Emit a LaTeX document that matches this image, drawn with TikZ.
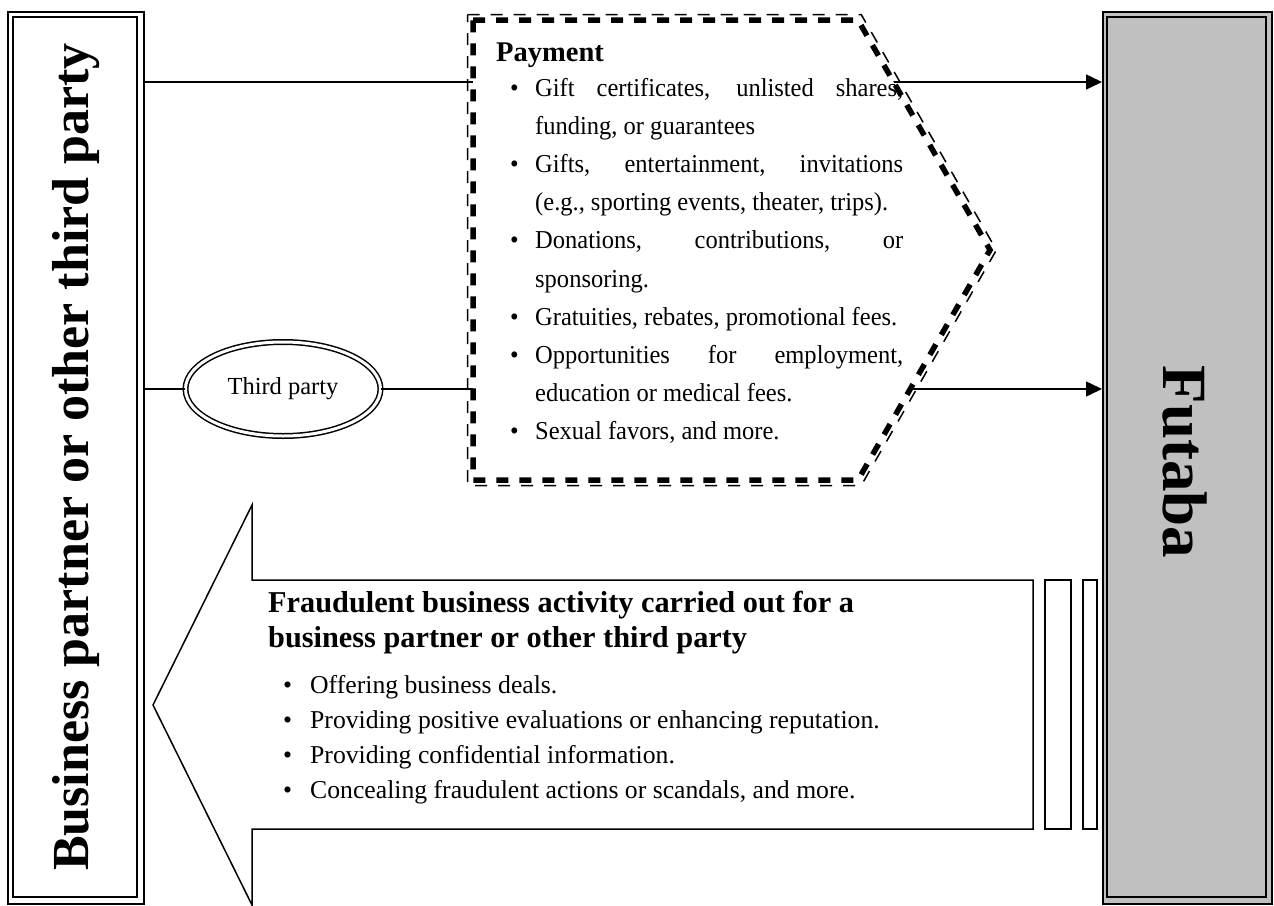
\documentclass[tikz,border=0pt]{standalone}
\usepackage{fontspec}
\setmainfont{Liberation Serif}
\newfontfamily\narrowserif[FakeStretch=0.95]{Liberation Serif}
\usetikzlibrary{arrows.meta,calc,shapes.geometric}
\definecolor{boxgray}{HTML}{C0C0C0}
\newcommand\pitem[1]{\hangindent=25pt\hangafter=1\noindent\makebox[25pt][l]{\textbullet}#1\par}
\newcommand\qitem[1]{\noindent\makebox[27pt][l]{\textbullet}#1\par}
\tikzset{
  conn/.style={line width=1.5pt},
  arr/.style={conn,-{Triangle[length=16pt,width=15pt]}},
  outerbox/.style={draw,line width=1.5pt,inner sep=0pt,anchor=north west},
  hexthick/.style={line width=5.5pt,dash pattern=on 12pt off 11pt},
  hexthin/.style={line width=1.5pt,dash pattern=on 12pt off 11pt},
  blockarrow/.style={line width=1.5pt,fill=white,line join=miter},
  bigbold/.style={font=\fontsize{52}{60}\selectfont\bfseries,inner sep=0pt},
}
\begin{document}
\begin{tikzpicture}[x=1pt,y=-1pt]
\useasboundingbox (0,0) rectangle (1274,905);
\fill[white] (0,0) rectangle (1274,905);
% left box
\node[outerbox,minimum width=136pt,minimum height=892pt] (L) at (7,11) {};
\draw[line width=2.5pt] (13,17) rectangle (137,897);
\node[bigbold,rotate=90] (Ltxt) at (76,457) {Business partner or other third party};
% right box
\node[outerbox,fill=boxgray,minimum width=169pt,minimum height=892pt] (R) at (1102,11) {};
\draw[line width=2pt] (1107,17) rectangle (1266,897);
\node[bigbold,rotate=-90,font=\fontsize{63}{66}\selectfont\bfseries] (Rtxt) at (1185,462) {Futaba};
% third party ellipse
\node[ellipse,draw,line width=1.5pt,double=white,double distance=3pt,fill=white,
      minimum width=195pt,minimum height=94pt,inner sep=0pt,
      font=\fontsize{24.5}{28}\selectfont] (E) at (283,389) {Third party};
% connectors
\coordinate (y1) at (0,82);
\draw[arr] (L.east |- y1) -- (R.west |- y1);
\draw[conn] (L.east |- E) -- (E.west);
\draw[arr] (E.east) -- (R.west |- E);
% payment hexagon
\fill[white] (473,20) -- (858,20) -- (990,250) -- (858,480) -- (473,480) -- cycle;
\draw[hexthin] (467.5,14.5) -- (861.2,14.5) -- (996.4,250) -- (861.2,485.5) -- (467.5,485.5) -- cycle;
\draw[hexthick] (473,20) -- (858,20) -- (990,250) -- (858,480) -- (473,480) -- cycle;
\node[anchor=base west,inner sep=0pt,font=\fontsize{28.5}{30}\selectfont\bfseries] (pay) at (496,61) {Payment};
\node[anchor=base west,inner sep=0pt] (plist) at (510,96) {\parbox[t]{393pt}{%
  \narrowserif\fontsize{25.8}{38.2}\selectfont\parindent=0pt\emergencystretch=20pt
  \pitem{Gift certificates, unlisted shares,\linebreak funding, or guarantees}
  \pitem{Gifts, entertainment, invitations\linebreak (e.g., sporting events, theater, trips).}
  \pitem{Donations, contributions, or\linebreak sponsoring.}
  \pitem{Gratuities, rebates, promotional fees.}
  \pitem{Opportunities for employment,\linebreak education or medical fees.}
  \pitem{Sexual favors, and more.}}};
% fraudulent activity block arrow
\draw[blockarrow] (1033,580) -- (252,580) -- (252,505) -- (153,705) -- (252,905) -- (252,829) -- (1033,829) -- cycle;
\draw[line width=1.5pt] (1045,580) rectangle (1071,829);
\draw[line width=1.5pt] (1083,580) rectangle (1097,829);
\node[anchor=base west,inner sep=0pt] (fhead) at (268,612) {\parbox[t]{760pt}{%
  \fontsize{30.3}{35}\selectfont\bfseries\raggedright
  Fraudulent business activity carried out for a\\ business partner or other third party}};
\node[anchor=base west,inner sep=0pt] (flist) at (283,693) {\parbox[t]{740pt}{%
  \fontsize{25.7}{35}\selectfont\parindent=0pt\raggedright
  \qitem{Offering business deals.}
  \qitem{Providing positive evaluations or enhancing reputation.}
  \qitem{Providing confidential information.}
  \qitem{Concealing fraudulent actions or scandals, and more.}}};
\end{tikzpicture}
\end{document}
